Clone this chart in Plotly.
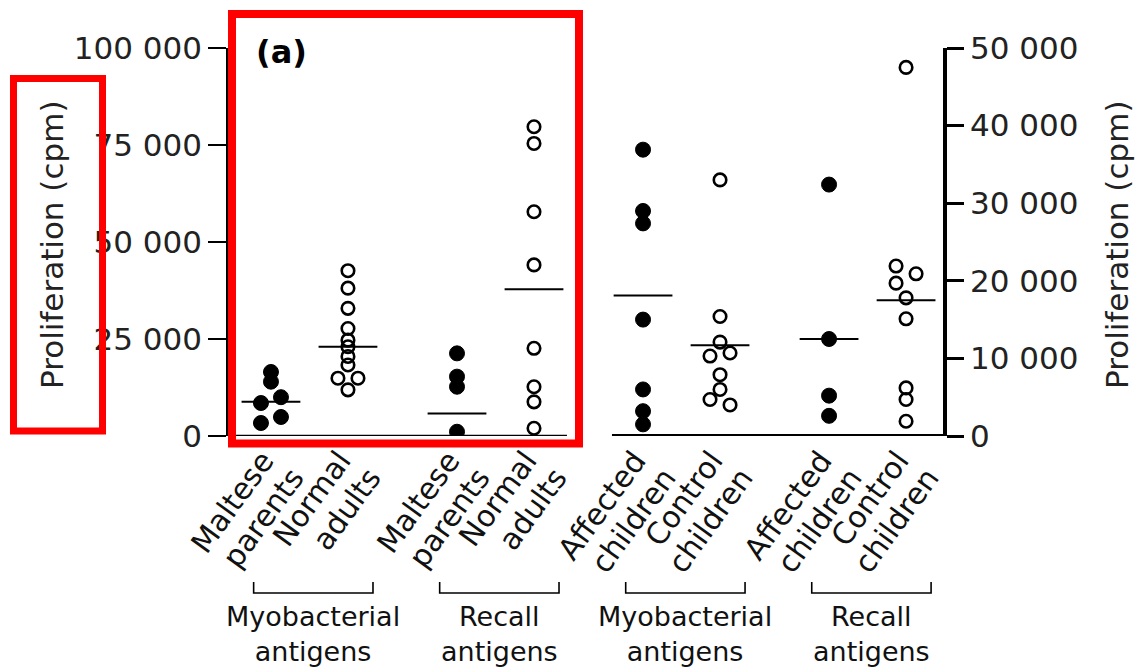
import plotly.graph_objects as go

# ---------------- data ----------------
label_line1 = ["Maltese", "Normal", "Maltese", "Normal", "Affected", "Control", "Affected", "Control"]
label_line2 = ["parents", "adults", "parents", "adults", "children", "children", "children", "children"]
antigen_labels = ["Myobacterial<br>antigens", "Recall<br>antigens", "Myobacterial<br>antigens", "Recall<br>antigens"]

maltese_myco = [16500, 14000, 10000, 8500, 4900, 3350]
maltese_myco_lane = [0, 0, 1, -1, 1, -1]
normal_myco = [42600, 38100, 32900, 27700, 24700, 23000, 20500, 18300, 14900, 14900, 11900]
normal_myco_lane = [0, 0, 0, 0, 0, 0, 0, 0, -1, 1, 0]
maltese_recall = [21300, 15300, 12700, 1100]
maltese_recall_lane = [0, 0, 0, 0]
normal_recall = [79700, 75400, 57800, 44100, 22600, 12700, 8800, 2000]
normal_recall_lane = [0, 0, 0, 0, 0, 0, 0, 0]
affected_myco = [36900, 29000, 27400, 15000, 6000, 3200, 1500]
affected_myco_lane = [0, 0, 0, 0, 0, 0, 0]
control_myco = [33000, 15400, 12100, 10300, 10700, 7900, 6000, 4700, 4000]
control_myco_lane = [0, 0, 0, -1, 1, 0, 0, -1, 1]
affected_recall = [32400, 12500, 5200, 2600]
affected_recall_lane = [0, 0, 0, 0]
control_recall = [47500, 21900, 20900, 19700, 17800, 15100, 6200, 4700, 1900]
control_recall_lane = [0, -1, 1, -1, 0, 0, 0, 0, 0]

group_means = [8800, 23000, 5800, 37800, 18100, 11700, 12500, 17500]
group_filled = [True, False, True, False, True, False, True, False]
group_axis = ["y", "y", "y", "y", "y2", "y2", "y2", "y2"]

left_tickvals = [0, 25000, 50000, 75000, 100000]
left_ticktext = ["0", "25 000", "50 000", "75 000", "100 000"]
right_tickvals = [0, 10000, 20000, 30000, 40000, 50000]
right_ticktext = ["0", "10 000", "20 000", "30 000", "40 000", "50 000"]

groups = [(maltese_myco, maltese_myco_lane), (normal_myco, normal_myco_lane),
          (maltese_recall, maltese_recall_lane), (normal_recall, normal_recall_lane),
          (affected_myco, affected_myco_lane), (control_myco, control_myco_lane),
          (affected_recall, affected_recall_lane), (control_recall, control_recall_lane)]

# ---------------- layout helpers ----------------
W, H = 1138, 672
PL, PR, PT, PB = 228, 943, 48, 436
UNIT = 77.0                       # px per x unit
PAIR_GAP = 0.416
X0 = -0.558
X1 = X0 + (PR - PL) / UNIT
LANE = 0.13

positions = [i + PAIR_GAP * (i // 2) for i in range(len(label_line1))]

def fx(p):  # pixel x -> paper
    return (p - PL) / (PR - PL)

def fy(p):  # pixel y -> paper
    return (PB - p) / (PB - PT)

FONT = "DejaVu Sans"

fig = go.Figure()

for i, (vals, lanes) in enumerate(groups):
    xs = [positions[i] + l * LANE for l in lanes]
    if group_filled[i]:
        marker = dict(symbol="circle", size=15, color="black", line=dict(color="black", width=1))
    else:
        marker = dict(symbol="circle-open", size=12.5, color="black", line=dict(color="black", width=2.6))
    fig.add_trace(go.Scatter(x=xs, y=vals, mode="markers", marker=marker,
                             yaxis=group_axis[i], showlegend=False, hoverinfo="y"))

for i, m in enumerate(group_means):
    fig.add_trace(go.Scatter(x=[positions[i]], y=[m], mode="markers",
                             marker=dict(symbol="line-ew", size=42, color="black",
                                         line=dict(color="black", width=2)),
                             yaxis=group_axis[i], showlegend=False, hoverinfo="y"))

# invisible traces so the two label axes are drawn
fig.add_trace(go.Scatter(x=[positions[0]], y=[None], xaxis="x2", mode="markers",
                         showlegend=False, hoverinfo="skip"))
fig.add_trace(go.Scatter(x=[positions[0]], y=[None], xaxis="x3", mode="markers",
                         showlegend=False, hoverinfo="skip"))

shapes = []
# baselines
shapes.append(dict(type="line", xref="x", yref="y", x0=X0, x1=(567 - 271) / UNIT, y0=0, y1=0,
                   line=dict(color="black", width=2.7), layer="below"))
shapes.append(dict(type="line", xref="x", yref="y2", x0=(612 - 271) / UNIT, x1=X1, y0=0, y1=0,
                   line=dict(color="black", width=4), layer="below"))
# brackets under pairs
for k in range(4):
    mid = (positions[2 * k] + positions[2 * k + 1]) / 2 + 0.05
    a, b = mid - 0.775, mid + 0.775
    yb, yt = fy(593), fy(582)
    shapes.append(dict(type="path", xref="x", yref="paper",
                       path=f"M {a} {yt} L {a} {yb} L {b} {yb} L {b} {yt}",
                       line=dict(color="black", width=1.6)))
# red highlight boxes
shapes.append(dict(type="rect", xref="paper", yref="paper", x0=fx(13.5), x1=fx(102.5),
                   y0=fy(431), y1=fy(78.5), line=dict(color="#ff0000", width=7)))
shapes.append(dict(type="rect", xref="paper", yref="paper", x0=fx(232), x1=fx(579),
                   y0=fy(443.5), y1=fy(14), line=dict(color="#ff0000", width=8)))

annotations = []
annotations.append(dict(x=fx(281), y=fy(52), xref="paper", yref="paper", text="<b>(a)</b>",
                        showarrow=False, font=dict(family=FONT, size=32, color="black"),
                        xanchor="center", yanchor="middle"))
annotations.append(dict(x=fx(52), y=fy(245), xref="paper", yref="paper", text="Proliferation (cpm)",
                        textangle=-90, showarrow=False, font=dict(family=FONT, size=31, color="#222"),
                        xanchor="center", yanchor="middle"))
annotations.append(dict(x=fx(1117), y=fy(245), xref="paper", yref="paper", text="Proliferation (cpm)",
                        textangle=-90, showarrow=False, font=dict(family=FONT, size=31, color="#222"),
                        xanchor="center", yanchor="middle"))
for k in range(4):
    mid = (positions[2 * k] + positions[2 * k + 1]) / 2 + 0.05
    annotations.append(dict(x=mid, y=fy(634), xref="x", yref="paper", text=antigen_labels[k],
                            showarrow=False, font=dict(family=FONT, size=27, color="#111"),
                            xanchor="center", yanchor="middle", align="center", borderpad=0))

# label axes: shifted ranges move each label line relative to its group
L1_SHIFT, L2_SHIFT = -8 / UNIT, 22 / UNIT

label_axis_common = dict(tickangle=-54, tickfont=dict(family=FONT, size=30, color="#111"),
                         showline=False, zeroline=False, showgrid=False, ticks="",
                         automargin=False, tickvals=positions)

fig.update_layout(
    template="none",
    width=W, height=H,
    margin=dict(l=PL, r=W - PR, t=PT, b=H - PB, pad=0, autoexpand=False),
    paper_bgcolor="white", plot_bgcolor="white",
    showlegend=False,
    xaxis=dict(range=[X0, X1], showticklabels=False, showline=False, zeroline=False,
               showgrid=False, ticks="", automargin=False),
    xaxis2=dict(range=[X0 - L1_SHIFT, X1 - L1_SHIFT], overlaying="x", anchor="y", side="bottom",
                ticktext=label_line1, ticklabelstandoff=0, **label_axis_common),
    xaxis3=dict(range=[X0 - L2_SHIFT, X1 - L2_SHIFT], overlaying="x", anchor="y", side="bottom",
                ticktext=label_line2, ticklabelstandoff=17, **label_axis_common),
    yaxis=dict(range=[0, 100000], tickvals=left_tickvals, ticktext=left_ticktext,
               ticks="outside", ticklen=18, tickwidth=2, tickcolor="black",
               showline=True, linewidth=1.5, linecolor="black",
               showgrid=False, zeroline=False, automargin=False,
               tickfont=dict(family=FONT, size=31, color="#222")),
    yaxis2=dict(range=[0, 50000], overlaying="y", side="right", anchor="x",
                tickvals=right_tickvals, ticktext=right_ticktext,
                ticks="outside", ticklen=17, tickwidth=2.5, tickcolor="black",
                showline=True, linewidth=3.5, linecolor="black",
                showgrid=False, zeroline=False, automargin=False,
                tickfont=dict(family=FONT, size=31, color="#222")),
    shapes=shapes,
    annotations=annotations,
)

fig.write_html("out.html")
